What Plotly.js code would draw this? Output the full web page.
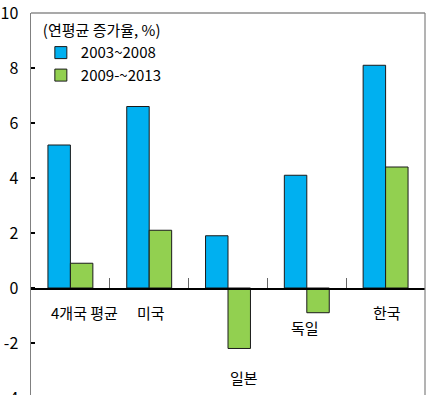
<!DOCTYPE html>
<html>
<head>
<meta charset="utf-8">
<script src="https://cdn.plot.ly/plotly-3.0.1.min.js"></script>
<style>
html,body{margin:0;padding:0;overflow:hidden;background:#fff;}
#chart{width:442px;height:412px;}
</style>
</head>
<body>
<div id="chart"></div>
<script>
// Data
var categories = ["4개국 평균", "미국", "일본", "독일", "한국"];
var series1Name = "2003~2008";
var series2Name = "2009-~2013";
var series1 = [5.2, 6.6, 1.9, 4.1, 8.1];
var series2 = [0.9, 2.1, -2.2, -0.9, 4.4];
var yTicks = [-4, -2, 0, 2, 4, 6, 8, 10];
var legendTitle = "(연평균 증가율, %)";

var FONT = "'Noto Sans CJK KR', 'Noto Sans', sans-serif";

var traces = [
  {type: "bar", name: series1Name, x: categories, y: series1,
   marker: {color: "#00B0F0", line: {color: "#1a1a1a", width: 1}}, hoverinfo: "skip"},
  {type: "bar", name: series2Name, x: categories, y: series2,
   marker: {color: "#92D050", line: {color: "#1a1a1a", width: 1}}, hoverinfo: "skip"}
];

// label placement (layout only)
var labelY = [-0.9, -0.9, -3.25, -1.45, -0.9];
var labelShift = [14, 2, 16, -2, 1];
var annotations = categories.map(function (c, i) {
  return {x: c, y: labelY[i], xref: "x", yref: "y", text: c, showarrow: false,
          xshift: labelShift[i], font: {family: FONT, size: 15, color: "#000"}};
});

var yr = [yTicks[0], yTicks[yTicks.length - 1]];
var layout = {
  width: 442, height: 412,
  margin: {l: 31, r: 17, t: 13, b: 14},
  paper_bgcolor: "#fff", plot_bgcolor: "#fff",
  barmode: "group", bargap: 0.43, bargroupgap: 0,
  showlegend: true,
  legend: {
    x: 0.025, y: 0.99, xanchor: "left", yanchor: "top",
    bgcolor: "rgba(0,0,0,0)", borderwidth: 0,
    title: {text: legendTitle, font: {family: FONT, size: 15, color: "#000"}},
    font: {family: FONT, size: 15, color: "#000"},
    tracegroupgap: 0, itemwidth: 30
  },
  xaxis: {
    type: "category", range: [-0.5, categories.length - 0.5],
    anchor: "free", position: (0 - yr[0]) / (yr[1] - yr[0]),
    showline: true, linecolor: "#000", linewidth: 1.5,
    ticks: "inside", tickson: "boundaries", ticklen: 10, tickwidth: 1.2, tickcolor: "#666",
    showticklabels: false, showgrid: false, zeroline: false, fixedrange: true
  },
  yaxis: {
    range: [yr[0] - 0.001, yr[1] + 0.001], tickvals: yTicks, ticktext: yTicks.map(String),
    ticks: "inside", ticklen: 4, tickwidth: 1.2, tickcolor: "#000",
    showline: true, linecolor: "#808080", linewidth: 1.5,
    showgrid: false, zeroline: false, ticklabelstandoff: 8, ticklabeloverflow: "allow",
    tickfont: {family: FONT, size: 16, color: "#000"}, fixedrange: true
  },
  shapes: [
    {type: "line", xref: "paper", yref: "paper", x0: 0, x1: 1, y0: 1, y1: 1,
     line: {color: "#555", width: 1.2}},
    {type: "line", xref: "paper", yref: "paper", x0: 1, x1: 1, y0: 0, y1: 1,
     line: {color: "#808080", width: 1.2}}
  ],
  annotations: annotations
};

Plotly.newPlot("chart", traces, layout, {displayModeBar: false, staticPlot: true});
</script>
</body>
</html>
